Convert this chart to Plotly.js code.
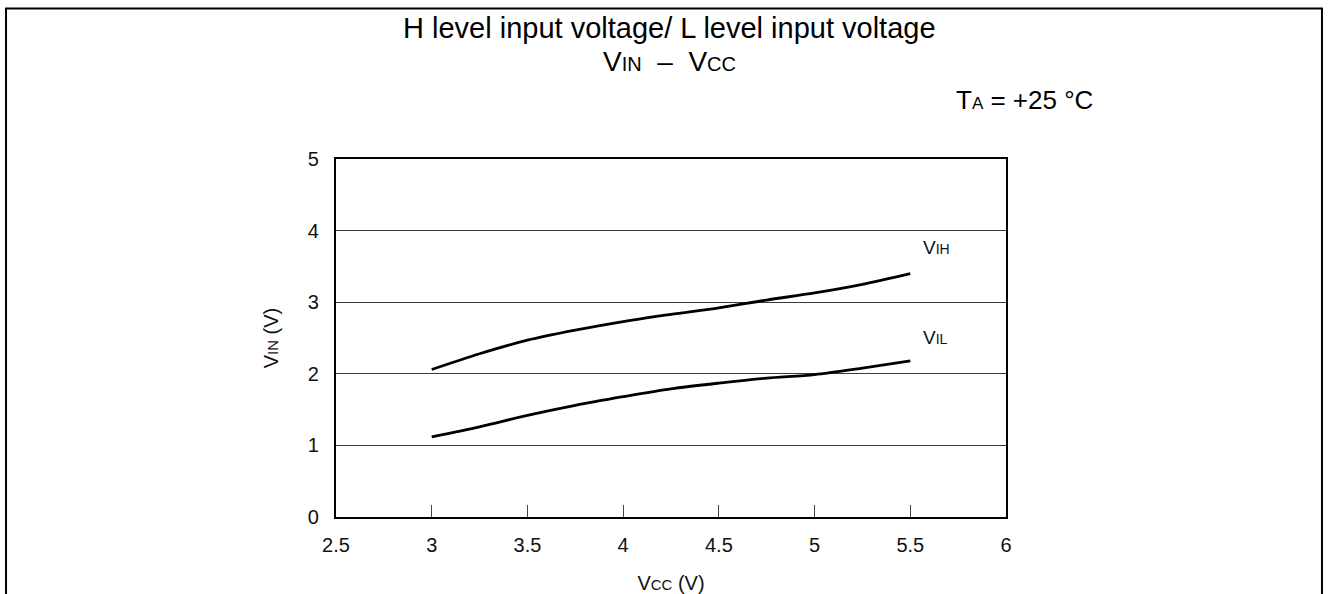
<!DOCTYPE html>
<html>
<head>
<meta charset="utf-8">
<script src="https://cdn.plot.ly/plotly-3.0.1.min.js"></script>
<style>
html,body{margin:0;padding:0;background:#fff;}
#chart{width:1328px;height:594px;}
</style>
</head>
<body>
<div id="chart"></div>
<script>
// Data
const vcc = [3.0, 3.25, 3.5, 3.75, 4.0, 4.25, 4.5, 4.75, 5.0, 5.25, 5.5];
const vih = [2.06, 2.28, 2.47, 2.61, 2.73, 2.83, 2.92, 3.03, 3.13, 3.25, 3.40];
const vil = [1.12, 1.26, 1.42, 1.56, 1.68, 1.79, 1.87, 1.94, 1.99, 2.08, 2.18];
const xTicks = [2.5, 3, 3.5, 4, 4.5, 5, 5.5, 6];
const yTicks = [0, 1, 2, 3, 4, 5];
const seriesNames = ['V<span style="font-size:14px">IH</span>', 'V<span style="font-size:14px">IL</span>'];

const FONT = 'Liberation Sans, Arial, Helvetica, sans-serif';
const lineStyle = {color: '#000', width: 2.8, shape: 'spline', smoothing: 0.8};

const traces = [
  {x: vcc, y: vih, mode: 'lines', line: lineStyle, name: 'VIH', hoverinfo: 'x+y'},
  {x: vcc, y: vil, mode: 'lines', line: lineStyle, name: 'VIL', hoverinfo: 'x+y'}
];

const NB = '\u00a0';

const layout = {
  width: 1328, height: 594,
  margin: {l: 336, r: 322, t: 159, b: 77, pad: 0},
  paper_bgcolor: '#fff', plot_bgcolor: '#fff',
  showlegend: false,
  font: {family: FONT, color: '#000', size: 20},
  xaxis: {
    range: [2.5, 6], tickvals: xTicks, ticktext: xTicks.map(String),
    showgrid: false, zeroline: false,
    showline: true, linecolor: '#000', linewidth: 2.2, mirror: true,
    ticks: 'inside', ticklen: 12, tickwidth: 1.2, tickcolor: '#444',
    ticklabelstandoff: 9,
    tickfont: {size: 20, family: FONT, color: '#111'},
    title: {text: 'V<span style="font-size:15px">CC</span> (V)', font: {size: 20, family: FONT, color: '#111'}, standoff: 21},
    automargin: false, fixedrange: true
  },
  yaxis: {
    range: [0, 5], tickvals: yTicks, ticktext: yTicks.map(String),
    showgrid: true, gridcolor: '#3a3a3a', gridwidth: 1.2, zeroline: false,
    showline: true, linecolor: '#000', linewidth: 2.2, mirror: true,
    ticks: '', ticklabelstandoff: 11,
    tickfont: {size: 20, family: FONT, color: '#111'},
    title: {text: 'V<span style="font-size:15px">IN</span> (V)', font: {size: 20, family: FONT, color: '#111'}, standoff: 24},
    automargin: false, fixedrange: true
  },
  annotations: [
    {xref: 'paper', yref: 'paper', x: 0.4978, y: 1.366, xanchor: 'center', yanchor: 'middle', showarrow: false,
     text: 'H level input voltage/ L level input voltage', font: {size: 29, family: FONT, color: '#000'}},
    {xref: 'paper', yref: 'paper', x: 0.4978, y: 1.273, xanchor: 'center', yanchor: 'middle', showarrow: false,
     text: 'V<span style="font-size:20px">IN</span>' + NB + NB + '–' + NB + NB + 'V<span style="font-size:20px">CC</span>', font: {size: 28, family: FONT, color: '#000'}},
    {xref: 'paper', yref: 'paper', x: 1.1328, y: 1.166, xanchor: 'right', yanchor: 'middle', showarrow: false,
     text: 'T<span style="font-size:17px">A</span> = +25 °C', font: {size: 26, family: FONT, color: '#000'}},
    {xref: 'x', yref: 'y', x: 5.555, y: 3.77, xanchor: 'left', yanchor: 'middle', showarrow: false,
     text: seriesNames[0], font: {size: 19, family: FONT, color: '#111'}},
    {xref: 'x', yref: 'y', x: 5.555, y: 2.51, xanchor: 'left', yanchor: 'middle', showarrow: false,
     text: seriesNames[1], font: {size: 19, family: FONT, color: '#111'}}
  ],
  shapes: [
    {type: 'path', xref: 'paper', yref: 'paper',
     path: 'M -0.4925,-0.25 L -0.4925,1.4206 L 1.4716,1.4206 L 1.4716,-0.25',
     line: {color: '#000', width: 2}, fillcolor: 'rgba(0,0,0,0)', layer: 'above'}
  ]
};

Plotly.newPlot('chart', traces, layout, {displayModeBar: false, staticPlot: true});
</script>
</body>
</html>
